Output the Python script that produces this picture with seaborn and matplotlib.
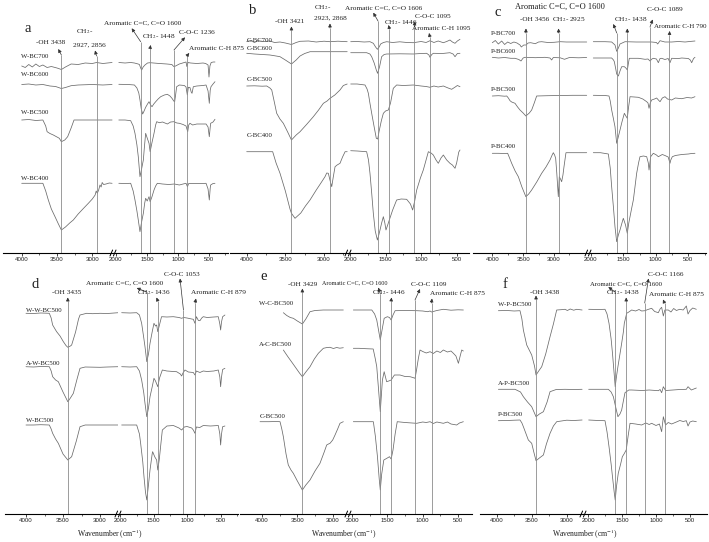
import pandas as pd
import seaborn as sns
import matplotlib.pyplot as plt
from matplotlib.lines import Line2D

W, H = 709, 542

# ---- spectra: (wavenumber cm-1, offset transmittance in plot units) ----
W_BC700 = [(4000, 187), (3950, 185.5), (3900, 188.5), (3850, 186), (3800, 189), (3750, 186.5), (3700, 188),
           (3640, 185.5), (3580, 186.5), (3500, 185), (3438, 183.5), (3380, 186), (3300, 189), (3200, 188.5),
           (3100, 190), (3000, 189.5), (2940, 190.5), (2850, 189.5), (2720, 190.5),
           (1950, 190.5), (1850, 190), (1760, 190.5), (1700, 190), (1640, 189), (1620, 188.5), (1600, 185),
           (1584, 183), (1560, 186), (1531, 188), (1490, 190), (1450, 190.3), (1300, 189.5), (1180, 189),
           (1100, 188.5), (1070, 186.5), (1040, 187), (980, 189), (900, 190.5), (873, 191), (860, 186.5),
           (840, 190.5), (800, 190), (700, 189.5), (600, 190), (558, 189.5), (520, 188), (505, 176),
           (490, 187), (470, 190.5), (436, 191), (409, 191)]
W_BC600 = [(4000, 168.5), (3900, 169), (3800, 168), (3700, 168.5), (3600, 167), (3520, 166.5), (3438, 164.5),
           (3380, 165.5), (3300, 167.3), (3200, 168), (3000, 168.5), (2850, 168), (2720, 168.5),
           (1950, 168.7), (1800, 168.5), (1700, 168), (1660, 165), (1630, 160), (1611, 153), (1590, 144),
           (1568, 139), (1545, 142), (1520, 145.7), (1490, 149), (1466, 151.3), (1440, 148), (1418, 146.3),
           (1390, 149), (1359, 151.3), (1320, 154), (1279, 156.3), (1220, 158), (1172, 158.7), (1130, 157),
           (1098, 154.7), (1070, 152), (1055, 151.3), (1040, 158), (1023, 166.3), (980, 168), (900, 167.5),
           (873, 166), (852, 158), (836, 165.7), (810, 165.5), (790, 161), (777, 159.7), (756, 166.3),
           (700, 167), (600, 167.5), (552, 168), (520, 162), (500, 149.7), (485, 163), (473, 166.3),
           (440, 169), (409, 171.3)]
W_BC500 = [(4000, 133), (3900, 133.5), (3800, 132.5), (3700, 133), (3660, 127), (3640, 121.3), (3600, 119.5),
           (3552, 118), (3500, 116), (3467, 114.7), (3438, 111.3), (3390, 113), (3349, 116.3), (3300, 125),
           (3259, 133), (3100, 133), (2900, 133), (2720, 133),
           (1950, 133), (1850, 133), (1760, 132.3), (1720, 127), (1691, 119.7), (1660, 108), (1638, 96.3),
           (1611, 76.3), (1585, 84), (1557, 93), (1540, 106), (1520, 119.7), (1490, 114), (1466, 109.7),
           (1448, 101.3), (1420, 110), (1386, 119.7), (1360, 128), (1343, 131.3), (1300, 130.3), (1250, 131),
           (1172, 129), (1120, 131), (1066, 131.3), (1020, 130), (980, 129.7), (920, 128.5), (873, 127),
           (846, 121.3), (830, 128), (810, 129.7), (767, 128), (700, 129), (600, 129), (552, 129), (520, 126),
           (500, 116.3), (485, 126), (478, 129.7), (440, 131), (409, 133.7)]
W_BC400 = [(4000, 69.7), (3800, 69.7), (3700, 69.7), (3660, 62), (3623, 53), (3580, 44), (3528, 36.3),
           (3480, 29), (3438, 23), (3380, 26), (3320, 30), (3269, 33), (3200, 39), (3120, 45), (3056, 49.7),
           (3000, 54), (2960, 58), (2945, 62), (2929, 59.7), (2910, 63), (2891, 68), (2875, 66), (2860, 70.5),
           (2840, 68.5), (2806, 69), (2760, 70), (2720, 69.7),
           (1950, 69.7), (1850, 69.5), (1760, 69.7), (1720, 62), (1691, 53), (1660, 42), (1638, 33),
           (1611, 21.3), (1585, 31), (1557, 39.7), (1535, 50), (1520, 54.7), (1495, 52), (1466, 56.3),
           (1448, 51.3), (1420, 56), (1386, 63), (1360, 67), (1333, 69.7), (1250, 69), (1150, 68.5),
           (1060, 69), (980, 68), (920, 69), (873, 69.7), (850, 66.3), (830, 69.5), (700, 69.5), (600, 69.5),
           (552, 69.7), (520, 64), (500, 53), (485, 65), (478, 68), (440, 69.5), (409, 69.7)]

C_BC700 = [(4000, 211.3), (3950, 212.5), (3900, 210.5), (3850, 212.3), (3784, 211.5), (3700, 212), (3640, 210.5),
           (3569, 211), (3500, 210), (3421, 208.5), (3360, 210.5), (3310, 211.7), (3200, 212), (3100, 211),
           (3000, 211.8), (2922, 211.3), (2820, 211.8), (2700, 211.3),
           (1990, 211.3), (1900, 211.5), (1800, 211), (1719, 211.3), (1672, 209.7), (1640, 206), (1615, 203.7),
           (1590, 206), (1569, 209), (1530, 210.5), (1484, 211.3), (1400, 210.5), (1300, 211.2), (1200, 210.5),
           (1109, 210.3), (1000, 211.5), (930, 210.5), (875, 212.3), (820, 210.5), (760, 212), (687, 210.3),
           (640, 211.5), (594, 213), (560, 211), (523, 209.7), (490, 212), (453, 213.7)]
C_BC600 = [(4000, 199.7), (3900, 199), (3800, 198.5), (3700, 198), (3620, 197), (3569, 196.3), (3500, 193),
           (3421, 189), (3360, 193), (3310, 197), (3250, 199.5), (3180, 201.3), (3000, 201.3), (2850, 201.3),
           (2700, 201.3),
           (1990, 200.3), (1850, 200.3), (1766, 200.3), (1720, 199), (1695, 196.3), (1660, 190), (1630, 183),
           (1612, 179.7), (1585, 186), (1555, 196.3), (1520, 198.5), (1484, 199), (1300, 199.2), (1109, 199),
           (1000, 199.5), (922, 199.7), (890, 198), (875, 195.7), (850, 198.5), (828, 199.7), (700, 199.5),
           (594, 200.3), (550, 199), (523, 196.3), (490, 199.5), (453, 199.7)]
C_BC500 = [(4000, 167), (3900, 167.2), (3800, 166.8), (3741, 167), (3700, 165), (3676, 163), (3640, 150),
           (3612, 139.7), (3570, 134), (3526, 129.7), (3470, 121), (3421, 113), (3360, 118), (3310, 121.3),
           (3220, 129), (3138, 136.3), (3070, 143), (3008, 149.7), (2960, 152), (2922, 154.7), (2860, 158),
           (2793, 163), (2750, 167.5), (2700, 169),
           (1990, 169), (1900, 169), (1789, 168), (1760, 164), (1742, 159.7), (1720, 150), (1695, 139.7),
           (1660, 126), (1630, 114.7), (1610, 114), (1592, 121.3), (1560, 132), (1531, 139.7), (1500, 142),
           (1461, 143), (1430, 150), (1391, 164.7), (1344, 168), (1250, 167.5), (1109, 168), (1000, 167),
           (930, 166.5), (875, 165.7), (820, 167), (760, 166), (687, 167), (620, 165), (570, 163.7),
           (520, 166), (490, 167.5), (453, 166.3)]
C_BC400 = [(4000, 101.3), (3800, 101.3), (3664, 101.3), (3620, 90), (3569, 79.7), (3500, 62), (3440, 44),
           (3421, 39.7), (3375, 34.7), (3300, 40), (3240, 47), (3181, 53), (3100, 63), (3040, 70), (2987, 76.3),
           (2965, 80), (2944, 79.7), (2920, 72), (2900, 66.3), (2880, 76), (2857, 86.3), (2830, 88),
           (2793, 89.7), (2760, 96), (2727, 101.3), (2700, 101.3),
           (1990, 102.3), (1900, 102), (1766, 101.3), (1740, 93), (1719, 79.7), (1695, 60), (1672, 39.7),
           (1645, 22), (1615, 13), (1595, 18), (1578, 23), (1555, 30), (1531, 36.3), (1510, 30), (1494, 23),
           (1470, 28), (1447, 33), (1400, 43), (1344, 53), (1280, 54), (1203, 53.7), (1150, 49), (1119, 43),
           (1090, 52), (1062, 63), (1010, 75), (969, 83), (930, 93), (898, 101.3), (860, 100), (828, 98),
           (790, 93), (758, 89.7), (720, 95), (687, 98), (640, 93), (594, 89.7), (560, 88), (523, 84.7),
           (500, 90), (470, 101), (453, 103)]

P_BC700 = [(4000, 210.3), (3951, 212.5), (3902, 209), (3848, 212), (3800, 208.5), (3751, 211), (3702, 209.5),
           (3650, 211), (3600, 210), (3551, 208), (3530, 206), (3490, 208), (3454, 208), (3420, 210),
           (3378, 210.3), (3303, 209.3), (3250, 211), (3200, 211.3), (3100, 210.5), (3000, 210.7), (2900, 211.3),
           (2800, 211), (2650, 211), (2470, 211),
           (1960, 211.3), (1780, 211.3), (1678, 211), (1627, 208), (1601, 201.7), (1575, 205), (1550, 209),
           (1473, 211.3), (1300, 211), (1064, 211), (990, 210.5), (971, 209), (935, 212.3), (860, 211),
           (756, 211), (650, 211.5), (550, 211), (449, 211.7), (398, 212)]
P_BC600 = [(4000, 195.7), (3900, 195), (3800, 195.5), (3700, 194.7), (3632, 194.7), (3570, 193.5), (3535, 192),
           (3500, 195), (3470, 195.7), (3300, 195.3), (3146, 195.7), (3065, 195), (3038, 193), (3011, 195.5),
           (2900, 195.2), (2830, 193.7), (2750, 195.5), (2600, 195.2), (2470, 195.5),
           (1960, 195), (1780, 195), (1678, 195), (1650, 193), (1637, 191.3), (1615, 184), (1601, 179),
           (1575, 177), (1550, 182), (1524, 186.3), (1483, 186.3), (1460, 185), (1437, 183), (1420, 190),
           (1407, 194.7), (1268, 194.7), (1165, 193.7), (1120, 194), (1089, 192), (1060, 194), (1038, 194.7),
           (990, 194), (961, 190.3), (935, 194.5), (910, 194.7), (860, 193.5), (810, 194.5), (782, 190.3),
           (756, 194.7), (650, 194.5), (602, 195), (500, 194.5), (470, 193), (449, 190.3), (420, 194.5),
           (398, 195.7)]
P_BC500 = [(4000, 157), (3900, 157.3), (3800, 156.8), (3766, 157), (3740, 155), (3713, 152.3), (3686, 151),
           (3632, 149.7), (3590, 146), (3551, 143), (3500, 140), (3456, 137), (3400, 140), (3362, 143),
           (3320, 150), (3281, 157), (3100, 157.3), (2900, 157.5), (2700, 157.7), (2470, 157.7),
           (1960, 157.7), (1780, 157.5), (1719, 157), (1700, 152), (1678, 143), (1650, 134), (1627, 126.3),
           (1601, 109.7), (1580, 115), (1550, 123), (1520, 131), (1483, 139.7), (1460, 137), (1438, 134.7),
           (1420, 145), (1396, 156.3), (1330, 156), (1268, 155.7), (1200, 154), (1140, 151.3), (1120, 150),
           (1104, 144.7), (1085, 150), (1064, 153), (1020, 154), (987, 155), (960, 153), (935, 151.3),
           (900, 155), (859, 156.3), (820, 154), (756, 153), (700, 155), (602, 154.3), (520, 155.5),
           (450, 155), (398, 156.3)]
P_BC400 = [(4000, 99.7), (3900, 99.7), (3800, 99.5), (3751, 99.7), (3720, 95), (3686, 89.7), (3630, 82),
           (3578, 76.3), (3520, 66), (3456, 56.3), (3410, 59), (3362, 63), (3280, 71), (3200, 79.7),
           (3130, 86), (3065, 93), (3030, 98), (3011, 100.3), (2990, 98), (2973, 94.7), (2955, 80),
           (2930, 56.3), (2914, 76.3), (2895, 74), (2876, 71.3), (2855, 78), (2838, 86.3), (2806, 100.3),
           (2700, 100.3), (2550, 100.3), (2470, 100.3),
           (1960, 100.3), (1850, 100.3), (1729, 99), (1700, 85), (1678, 66.3), (1650, 45), (1627, 26.3),
           (1601, 11.3), (1575, 18), (1550, 23), (1520, 30), (1499, 34.7), (1465, 28), (1438, 19.7),
           (1415, 30), (1396, 36.3), (1370, 45), (1345, 53), (1320, 66), (1294, 79.7), (1265, 90),
           (1243, 96.3), (1190, 97), (1140, 96.3), (1115, 90), (1104, 83), (1090, 90), (1079, 96.3),
           (1038, 99.7), (990, 98), (961, 96.3), (900, 98.5), (860, 97.5), (810, 96), (782, 89.7), (770, 93),
           (746, 96.3), (700, 97.5), (650, 98), (600, 98.5), (500, 99), (450, 99.5), (398, 99.7)]

W_W_BC500 = [(4000, 200.7), (3900, 200.5), (3800, 201), (3685, 200.7), (3660, 196), (3640, 189), (3600, 184),
             (3586, 182.3), (3540, 178), (3495, 172.3), (3460, 168.5), (3435, 166.7), (3400, 168), (3383, 169),
             (3330, 182), (3290, 195), (3270, 199), (3180, 200.7), (3100, 200.3), (3000, 200.7), (2900, 200.5),
             (2752, 201.3),
             (1975, 201.3), (1850, 201), (1751, 201.3), (1710, 199), (1677, 190.7), (1645, 176), (1627, 167.3),
             (1600, 152.3), (1575, 160), (1552, 170.7), (1520, 182), (1493, 190.7), (1470, 188), (1453, 189),
             (1436, 182.3), (1415, 188), (1380, 197.3), (1300, 197), (1204, 197.3), (1120, 196.5),
             (1080, 195.7), (1050, 196.5), (1000, 196), (930, 195), (906, 194.7), (881, 190.7), (860, 197.3),
             (830, 193.5), (807, 193.3), (780, 196), (757, 197.3), (700, 196.5), (600, 197), (533, 197.3),
             (510, 190), (498, 184), (485, 192), (468, 197.3), (434, 199)]
A_W_BC500 = [(4000, 147.3), (3900, 147), (3800, 147.5), (3685, 147.3), (3660, 143), (3640, 137.3), (3600, 134),
             (3563, 132.3), (3500, 122), (3435, 112.3), (3400, 116), (3360, 120.7), (3310, 135), (3270, 145.7),
             (3200, 147), (3000, 146.7), (2900, 147), (2752, 147.3),
             (1975, 147.3), (1850, 147), (1751, 147.3), (1710, 143), (1677, 134), (1645, 121), (1627, 110.7),
             (1600, 97.3), (1575, 106), (1552, 117.3), (1520, 127), (1493, 135.7), (1470, 133), (1436, 127.3),
             (1410, 136), (1368, 144), (1300, 143), (1204, 142.5), (1155, 142.3), (1100, 140), (1080, 138),
             (1060, 141), (1030, 144), (980, 142), (906, 141.5), (881, 139), (860, 143), (807, 141.5),
             (757, 143), (700, 142.5), (600, 143), (533, 144), (510, 137), (498, 127.3), (485, 137),
             (468, 144.5), (434, 145.7)]
W_BC500_D = [(4000, 89), (3900, 89), (3800, 89.3), (3685, 89), (3660, 85), (3640, 80.7), (3600, 75),
             (3563, 70.7), (3500, 60), (3435, 54), (3383, 57.3), (3320, 73), (3270, 87.3), (3200, 89),
             (3000, 89), (2752, 89),
             (1975, 89), (1850, 89), (1751, 89), (1710, 80), (1692, 70.7), (1660, 52), (1642, 37.3), (1620, 22),
             (1600, 14), (1580, 26), (1552, 44), (1520, 60), (1513, 62.3), (1480, 57), (1453, 54), (1436, 44),
             (1413, 55), (1390, 70), (1368, 84), (1300, 88), (1204, 88.5), (1120, 86), (1080, 84), (1040, 87),
             (1000, 87.5), (930, 86), (906, 84), (881, 80.7), (860, 87), (810, 86.5), (757, 88.5), (650, 88),
             (533, 88.5), (510, 80), (498, 69), (485, 80), (468, 87.3), (434, 88)]

W_C_BC500 = [(3698, 201.3), (3650, 198.5), (3600, 196.5), (3557, 195.7), (3500, 193), (3429, 190), (3380, 195),
             (3321, 202.3), (3250, 203.5), (3132, 204), (3000, 204), (2850, 204),
             (1981, 204), (1850, 204), (1720, 204), (1680, 200), (1650, 194), (1625, 184), (1600, 174),
             (1575, 184), (1545, 195.7), (1500, 197.3), (1470, 196.5), (1446, 194), (1420, 199), (1390, 203.3),
             (1250, 203.5), (1085, 203.3), (1000, 203), (930, 202.3), (896, 203), (875, 202), (800, 203.5),
             (708, 204.7), (600, 203.8), (500, 204.2), (425, 204)]
A_C_BC500 = [(3698, 164), (3660, 160), (3628, 156.7), (3580, 152), (3533, 147.3), (3470, 141), (3429, 137.3),
             (3380, 142), (3321, 147.3), (3260, 155), (3203, 160.7), (3132, 165.7), (3080, 166.5), (3038, 166.7),
             (2990, 165.5), (2944, 166.5), (2900, 165.8), (2850, 166.3),
             (1981, 165.7), (1900, 165.7), (1800, 165.3), (1700, 165), (1670, 155), (1650, 147.3), (1625, 125),
             (1600, 102.3), (1570, 134), (1545, 142.3), (1510, 132.3), (1480, 133), (1446, 134), (1400, 139),
             (1321, 139), (1250, 137.5), (1179, 137.3), (1140, 136.5), (1108, 135.7), (1085, 145),
             (1061, 155.7), (1038, 164), (1000, 162.5), (950, 161), (896, 162.3), (850, 160.5), (800, 163),
             (750, 161.5), (708, 164), (650, 162), (600, 163), (566, 160.7), (530, 158), (495, 150.7),
             (470, 158), (448, 164), (425, 163)]
C_BC500_E = [(4028, 92.3), (3900, 92.3), (3800, 92.5), (3745, 92.3), (3720, 85), (3698, 77.3), (3660, 60),
             (3628, 49), (3590, 44), (3557, 40.7), (3500, 33), (3429, 24), (3380, 29), (3321, 34), (3250, 43),
             (3180, 50.7), (3120, 62), (3085, 69), (3060, 70), (3038, 70.7), (3000, 74), (2967, 79), (2930, 85),
             (2897, 90.7), (2850, 92.3),
             (1981, 92.3), (1850, 92.3), (1698, 92.3), (1670, 78), (1640, 57.3), (1615, 35), (1600, 24),
             (1580, 40), (1550, 54), (1500, 56), (1470, 57.3), (1446, 55), (1420, 64), (1390, 80), (1360, 92.3),
             (1250, 91.5), (1150, 91), (1085, 90.7), (1000, 92), (950, 91.5), (896, 92.3), (850, 90.5),
             (800, 92), (708, 90.7), (650, 92), (600, 90), (519, 89), (480, 91), (425, 92.3)]

W_P_BC500 = [(3976, 203.3), (3850, 203.5), (3750, 203), (3667, 203.3), (3640, 195), (3619, 184), (3571, 169),
             (3500, 159), (3460, 148), (3438, 139), (3400, 143), (3357, 147.3), (3300, 160), (3238, 177.3),
             (3190, 190), (3143, 204), (3080, 204.3), (3024, 204.7), (2990, 203.5), (2950, 205), (2900, 203.8),
             (2857, 204.7), (2780, 204),
             (1990, 204.7), (1850, 204.5), (1750, 204.7), (1720, 200), (1691, 190.7), (1660, 175),
             (1640, 160.7), (1615, 140), (1600, 127.3), (1580, 138), (1560, 147.3), (1530, 160), (1505, 170.7),
             (1480, 182), (1466, 190.7), (1431, 200.7), (1400, 202), (1358, 204), (1300, 203), (1250, 204.5),
             (1211, 203), (1162, 203.3), (1120, 204.5), (1064, 205.7), (1020, 202.5), (966, 201.3), (940, 205),
             (917, 206.7), (892, 198), (870, 204), (819, 204), (780, 202), (740, 205.5), (700, 203.5),
             (652, 204.7), (600, 204), (554, 208), (529, 200), (500, 203.5), (460, 206), (407, 204.7)]
A_P_BC500 = [(3976, 124.7), (3850, 124.7), (3738, 124.7), (3660, 122), (3619, 117.3), (3560, 112), (3500, 107.3),
             (3438, 97.3), (3390, 100), (3333, 102.3), (3280, 112), (3238, 122.3), (3150, 124.5), (3024, 124.7),
             (2900, 124.5), (2780, 124.7),
             (1990, 124.7), (1800, 124.7), (1701, 124.7), (1660, 122), (1627, 117.3), (1590, 106), (1560, 97.3),
             (1530, 100), (1505, 104), (1480, 113), (1456, 121.3), (1400, 124), (1358, 124), (1200, 123.5),
             (1100, 124), (1000, 123.5), (966, 123.3), (940, 124.5), (917, 121.3), (892, 127.3), (860, 123.5),
             (750, 124), (650, 124.5), (554, 124.7), (529, 127.3), (480, 124), (407, 126)]
P_BC500_F = [(3976, 93.3), (3850, 93.5), (3750, 93.8), (3667, 94), (3640, 91), (3619, 87.3), (3580, 80),
             (3548, 74), (3500, 70.7), (3470, 62), (3438, 53.3), (3390, 56), (3333, 59), (3290, 70),
             (3238, 80.7), (3190, 88), (3143, 92.3), (3000, 93.8), (2900, 93.5), (2780, 94),
             (1990, 94), (1850, 93.5), (1750, 93.3), (1720, 82), (1691, 67.3), (1660, 50), (1640, 37.3),
             (1615, 22), (1600, 14), (1580, 28), (1555, 40.7), (1520, 50), (1495, 57.3), (1470, 60),
             (1438, 64), (1410, 78), (1382, 90.7), (1300, 90), (1211, 89), (1150, 91), (1100, 89.5),
             (1064, 90.7), (1000, 88.5), (950, 90), (917, 82.3), (892, 97.3), (860, 89), (820, 91.5),
             (770, 90), (700, 92), (650, 93.5), (600, 92.5), (554, 93.3), (529, 88), (500, 92), (460, 93),
             (407, 92.3)]

# ---- sample names, marked bands and their labels ----
a_names = ["W-BC700", "W-BC600", "W-BC500", "W-BC400"]
b_names = ["C-BC700", "C-BC600", "C-BC500", "C-BC400"]
c_names = ["P-BC700", "P-BC600", "P-BC500", "P-BC400"]
d_names = ["W-W-BC500", "A-W-BC500", "W-BC500"]
e_names = ["W-C-BC500", "A-C-BC500", "C-BC500"]
f_names = ["W-P-BC500", "A-P-BC500", "P-BC500"]

a_peaks = [3438, 2940, 1600, 1448, 1066, 860]
b_peaks = [3421, 2923, 1606, 1446, 1095, 875]
c_peaks = [3456, 2925, 1600, 1438, 1089, 790]
d_peaks = [3435, 1600, 1436, 1053, 879]
e_peaks = [3429, 1600, 1446, 1109, 875]
f_peaks = [3438, 1600, 1438, 1166, 875]

a_notes = ["-OH 3438", "CH$_2$-", "2927, 2856", "Aromatic C=C, C=O 1600", "CH$_2$- 1448", "C-O-C 1236",
           "Aromatic C-H 875"]
b_notes = ["-OH 3421", "CH$_2$-", "2923, 2868", "Aromatic C=C, C=O 1606", "CH$_2$- 1446", "C-O-C 1095",
           "Aromatic C-H 1095"]
c_notes = ["Aromatic C=C, C=O 1600", "-OH 3456", "CH$_2$- 2925", "CH$_2$- 1438", "C-O-C 1089",
           "Aromatic C-H 790"]
d_notes = ["Aromatic C=C, C=O 1600", "C-O-C 1053", "-OH 3435", "CH$_2$- 1436", "Aromatic C-H 879"]
e_notes = ["-OH 3429", "Aromatic C=C, C=O 1600", "CH$_2$- 1446", "C-O-C 1109", "Aromatic C-H 875"]
f_notes = ["-OH 3438", "Aromatic C=C, C=O 1600", "CH$_2$- 1438", "C-O-C 1166", "Aromatic C-H 875"]

major_left = [4000, 3500, 3000]
minor_left = [3750, 3250, 2750]
major_right = [2000, 1500, 1000, 500]
minor_right = [1750, 1250, 750, 250]

# ---- layout (pixels of the 709x542 picture) ----
# start, x of 4000, px per cm-1 (left), break, x of 2000, px per cm-1 (right), end, axis y, top y
GEOM = {
    "a": (3, 21.7, 0.0706, 113, 115.7, 0.0624, 228, 253, 0),
    "b": (230, 246.7, 0.0773, 348, 350, 0.0711, 469, 253, 0),
    "c": (473, 492.3, 0.0617, 588, 590.7, 0.0651, 706, 253, 0),
    "d": (5, 26, 0.074, 118, 120, 0.067, 238, 514, 262),
    "e": (240, 262, 0.0707, 348, 352, 0.0707, 472, 514, 262),
    "f": (480, 496.7, 0.07, 583, 588, 0.068, 707, 514, 262),
}
LETTER_XY = {"a": (28, 29), "b": (252.7, 10), "c": (497.7, 12.7),
             "d": (35, 285), "e": (263.3, 276), "f": (505, 285)}
LABEL_X = {"a": 20.7, "b": 246.7, "c": 491, "d": 26, "e": 259.3, "f": 498.3}
LABEL_Y = {"a": [57, 75, 113, 178], "b": [40, 49, 79.3, 135], "c": [33.3, 51.7, 89.3, 146.7],
           "d": [310, 363.3, 420], "e": [303.3, 344, 416.7], "f": [304, 383.3, 414]}
# text anchor (x, y) and horizontal alignment per label
NOTE_XY = {
    "a": [(50.5, 43), (85, 32), (89, 45), (143, 23), (159, 37), (197, 33), (216, 48)],
    "b": [(290, 21.5), (322.7, 8), (330, 18), (384, 7.5), (401, 22.7), (433.3, 16.7), (441.5, 28.3)],
    "c": [(560, 6.7), (535, 19.3), (568.3, 19.3), (630.7, 19.3), (665, 9.3), (706, 27)],
    "d": [(124.5, 282.7), (181.7, 274), (67, 292), (153.3, 293), (218.3, 293)],
    "e": [(302.7, 284), (355, 283.3), (389, 292.5), (428.3, 284), (457, 293.3)],
    "f": [(545, 293), (626, 283.5), (623, 292.7), (666, 274.5), (676.7, 295)],
}
NOTE_HA = {("c", 5): "right"}
NOTE_SIZE = {("c", 0): 6.0, ("e", 1): 4.4, ("c", 5): 5.0, ("f", 1): 4.9}
LINE_TOP = {"a": [55, 56, 41.7, 48, 50, 56], "b": [30, 28, 21, 29, 27, 37], "c": [33, 33, 33, 33, 27, 35],
            "d": [301, 292, 301, 310, 303], "e": [292, 294, 301, 300, 303], "f": [299, 292, 300, 303, 303]}
HEAD_XY = {
    "a": [(58.3, 49), (95, 50.5), (131.7, 28.3), (150.7, 45), (185, 37.3), (189.3, 53)],
    "b": [(291.4, 26.5), (330, 23.5), (373.3, 12.7), (388.5, 25), (415, 21.5), (429, 33)],
    "c": [(526, 28.5), (558.6, 28.5), (613.3, 24), (627.3, 28.5), (652.7, 19.5), (669.7, 31)],
    "d": [(67.8, 297.5), (136.7, 288), (156.5, 297.5), (180, 278.5), (196, 298.5)],
    "e": [(302.4, 288.5), (378.3, 287.5), (391.5, 297.5), (420, 289), (432, 298.5)],
    "f": [(536, 295.5), (608.3, 287), (626.2, 297.5), (648.5, 278.5), (663, 299.5)],
}
XLABEL_X = {"d": 110, "e": 344, "f": 585}

CURVE = "#6a6a6a"
PEAK = "#8c8c8c"
INK = "#1e1e1e"

PANELS = {
    "a": ([W_BC700, W_BC600, W_BC500, W_BC400], a_names, a_peaks, a_notes),
    "b": ([C_BC700, C_BC600, C_BC500, C_BC400], b_names, b_peaks, b_notes),
    "c": ([P_BC700, P_BC600, P_BC500, P_BC400], c_names, c_peaks, c_notes),
    "d": ([W_W_BC500, A_W_BC500, W_BC500_D], d_names, d_peaks, d_notes),
    "e": ([W_C_BC500, A_C_BC500, C_BC500_E], e_names, e_peaks, e_notes),
    "f": ([W_P_BC500, A_P_BC500, P_BC500_F], f_names, f_peaks, f_notes),
}

sns.set_theme(style="white")
plt.rcParams["font.family"] = ["Liberation Serif", "DejaVu Serif"]
plt.rcParams["mathtext.fontset"] = "stix"

fig = plt.figure(figsize=(W / 100, H / 100), dpi=100)


def fx(x):
    return x / W


def fy(y):
    return 1 - y / H


def make_axis(x0, x1, base, top, xlim, major, minor):
    ax = fig.add_axes([fx(x0), fy(base), (x1 - x0) / W, (base - top) / H])
    ax.set_facecolor("none")
    ax.set_xlim(*xlim)
    ax.set_ylim(0, base - top)
    lo, hi = min(xlim), max(xlim)
    ax.set_xticks([t for t in major if lo <= t <= hi])
    ax.set_xticks([t for t in minor if lo <= t <= hi], minor=True)
    ax.set_yticks([])
    for s in ["left", "right", "top"]:
        ax.spines[s].set_visible(False)
    ax.spines["bottom"].set_color("black")
    ax.spines["bottom"].set_linewidth(0.8)
    ax.tick_params(axis="x", which="major", direction="out", length=1.8, width=0.6, pad=1.3,
                   labelsize=4.4, labelcolor="#222222", labelfontfamily="Liberation Sans", bottom=True)
    ax.tick_params(axis="x", which="minor", direction="out", length=1.1, width=0.5, bottom=True)
    return ax


for key, (curves, names, peaks, notes) in PANELS.items():
    start, p4000, sl, brk, p2000, sr, end, base, top = GEOM[key]
    left_lim = (4000 + (p4000 - start) / sl, 4000 - (brk - p4000) / sl)
    right_lim = (2000 + (p2000 - brk) / sr, 2000 - (end - p2000) / sr)
    ax_l = make_axis(start, brk, base, top, left_lim, major_left, minor_left)
    ax_r = make_axis(brk, end, base, top, right_lim, major_right, minor_right)

    for pts in curves:
        df = pd.DataFrame(pts, columns=["wn", "t"])
        for ax, part in ((ax_l, df[df.wn > 2300]), (ax_r, df[df.wn < 2300])):
            sns.lineplot(data=part, x="wn", y="t", ax=ax, color=CURVE, linewidth=0.55,
                         sort=False, estimator=None, legend=False)
    for ax in (ax_l, ax_r):
        ax.set_xlabel("")
        ax.set_ylabel("")

    # marked bands: vertical line with a small arrow towards its label
    for wn, ytop, (hx, hy) in zip(peaks, LINE_TOP[key], HEAD_XY[key]):
        ax = ax_l if wn > 2300 else ax_r
        ax.vlines(wn, 0, base - ytop, color=PEAK, linewidth=0.6)
        ax.annotate("", xy=(hx, H - hy), xycoords="figure pixels", xytext=(wn, base - ytop),
                    textcoords="data", annotation_clip=False,
                    arrowprops=dict(arrowstyle="-|>", color="#333333", lw=0.5, mutation_scale=5,
                                    shrinkA=0, shrinkB=0))

    for i, (txt, (x, y)) in enumerate(zip(notes, NOTE_XY[key])):
        fig.text(fx(x), fy(y), txt, fontsize=NOTE_SIZE.get((key, i), 5.2), ha=NOTE_HA.get((key, i), "center"),
                 va="center", color=INK)

    for name, y in zip(names, LABEL_Y[key]):
        fig.text(fx(LABEL_X[key]), fy(y), name, fontsize=4.9, ha="left", va="center", color=INK)

    lx, ly = LETTER_XY[key]
    fig.text(fx(lx), fy(ly), key, fontsize=10.5, ha="center", va="center", color=INK)

    # axis break marks
    for dx in (-1.7, 1.7):
        fig.add_artist(Line2D([fx(brk + dx - 1.3), fx(brk + dx + 1.3)], [fy(base + 3), fy(base - 3)],
                              color="black", linewidth=0.7))

    if key in XLABEL_X:
        fig.text(fx(XLABEL_X[key]), fy(534), "Wavenumber (cm$^{-1}$)", fontsize=5.5, ha="center",
                 va="center", color=INK)

fig.savefig("out.png", dpi=100)
